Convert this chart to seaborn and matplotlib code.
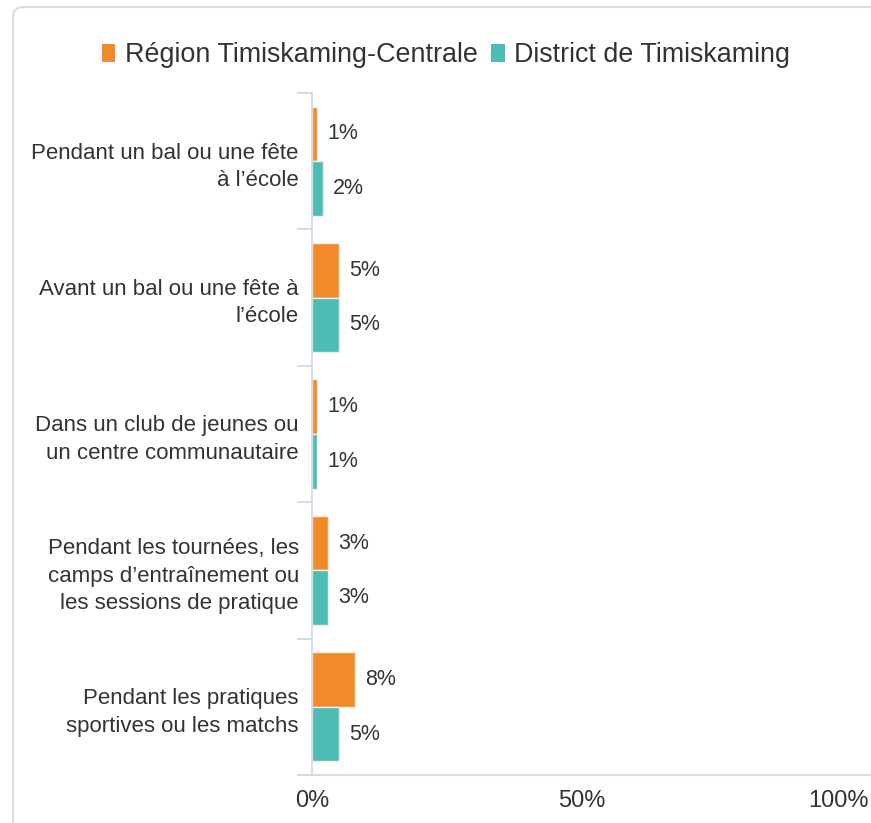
import matplotlib
matplotlib.use("Agg")
import matplotlib.pyplot as plt
from matplotlib.patches import Patch, FancyBboxPatch
from matplotlib.ticker import FixedLocator, FuncFormatter
from matplotlib.transforms import ScaledTranslation
import pandas as pd
import seaborn as sns

# Données du graphique
categories = [
    "Pendant un bal ou une fête\nà l’école",
    "Avant un bal ou une fête à\nl’école",
    "Dans un club de jeunes ou\nun centre communautaire",
    "Pendant les tournées, les\ncamps d’entraînement ou\nles sessions de pratique",
    "Pendant les pratiques\nsportives ou les matchs",
]
series_names = ["Région Timiskaming-Centrale", "District de Timiskaming"]
region_values = [1, 5, 1, 3, 8]
district_values = [2, 5, 1, 3, 5]
x_ticks = [0, 50, 100]

colors = ["#F28A2A", "#4DBDB5"]
text_color = "#333333"
axis_color = "#CCD6EB"

sns.set_theme(style="white")
plt.rcParams["font.family"] = ["Liberation Sans", "DejaVu Sans"]

df = pd.DataFrame({
    "Catégorie": categories * 2,
    "Série": [series_names[0]] * len(categories) + [series_names[1]] * len(categories),
    "Valeur": region_values + district_values,
})

fig = plt.figure(figsize=(8.71, 8.23), dpi=100)

# Cadre arrondi gris clair
frame = FancyBboxPatch(
    (13 / 871, -0.05), 1.2, 1.05 - 7 / 823,
    boxstyle="round,pad=0,rounding_size=0.012",
    transform=fig.transFigure, facecolor="none",
    edgecolor="#DDDDDD", linewidth=1.5, zorder=0,
)
fig.patches.append(frame)

ax = fig.add_axes([312 / 871, 48 / 823, 1 - 312 / 871, (775 - 93) / 823])

sns.barplot(
    data=df, y="Catégorie", x="Valeur", hue="Série",
    order=categories, hue_order=series_names, palette=colors,
    saturation=1, orient="h", width=0.8, edgecolor="#EEEEEE", linewidth=1,
    legend=False, ax=ax,
)

for cont in ax.containers:
    ax.bar_label(cont, labels=[f"{v:.0f}%" for v in cont.datavalues],
                 padding=7, fontsize=15.5, color=text_color)

ax.set_xlim(0, 103.5)
ax.set_ylim(len(categories) - 0.5, -0.5)
ax.set_xlabel("")
ax.set_ylabel("")

ax.xaxis.set_major_locator(FixedLocator(x_ticks))
ax.xaxis.set_major_formatter(FuncFormatter(lambda v, p: f"{v:.0f}%"))
ax.tick_params(axis="x", length=0, pad=11, labelsize=17, labelcolor=text_color)
ax.tick_params(axis="y", which="major", length=0, pad=9.5, labelsize=16,
               labelcolor=text_color)
for lbl in ax.get_yticklabels():
    lbl.set_linespacing(1.4)

# Le dernier libellé de l'axe x est décalé pour rester dans l'image
fig.canvas.draw()
last = ax.get_xticklabels()[-1]
last.set_transform(last.get_transform() + ScaledTranslation(-14 / 100, 0, fig.dpi_scale_trans))

# Traits de séparation entre catégories
ax.yaxis.set_minor_locator(FixedLocator([i - 0.5 for i in range(len(categories) + 1)]))
ax.tick_params(axis="y", which="minor", length=11, width=1.2, color=axis_color, left=True)

for side in ["top", "right"]:
    ax.spines[side].set_visible(False)
for side in ["left", "bottom"]:
    ax.spines[side].set_color(axis_color)
    ax.spines[side].set_linewidth(1.2)

handles = [Patch(facecolor=c, edgecolor="none") for c in colors]
fig.legend(handles, series_names, loc="center", bbox_to_anchor=(446 / 871, 1 - 55 / 823),
           ncol=2, frameon=False, fontsize=19.4, handlelength=0.5, handleheight=0.65,
           handletextpad=0.35, columnspacing=0.5, labelcolor=text_color)

fig.savefig("out.png", dpi=100)
